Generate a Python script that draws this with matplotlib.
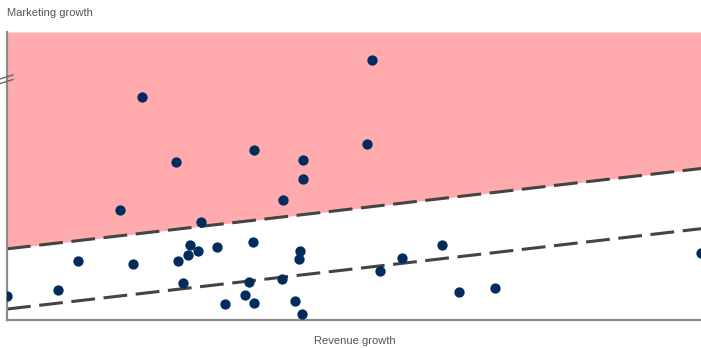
import matplotlib
matplotlib.use("Agg")
import matplotlib.pyplot as plt
import numpy as np

plt.rcParams['font.family'] = ['Liberation Sans', 'DejaVu Sans']

# Data (arbitrary units)
revenue_growth = [0.0, 7.3, 10.2, 16.3, 18.2, 19.5, 24.4, 24.6, 25.4, 26.1, 26.4, 27.5,
                  28.0, 30.3, 31.4, 34.3, 34.9, 35.4, 35.6, 35.6, 39.6, 39.8, 41.5, 42.1,
                  42.2, 42.5, 42.7, 42.7, 51.9, 52.6, 53.7, 56.9, 62.7, 65.1, 70.3, 100.0]
marketing_growth = [8.4, 10.5, 20.6, 38.3, 19.5, 77.4, 54.7, 20.6, 12.9, 22.6, 26.1, 24.0,
                    34.1, 25.4, 5.6, 8.7, 13.2, 27.2, 59.2, 5.9, 14.3, 41.8, 6.6, 21.3,
                    24.0, 2.1, 48.8, 55.4, 61.0, 90.2, 17.1, 21.6, 26.1, 9.8, 11.1, 23.3]

upper_line_x = [0, 100]
upper_line_y = [24.7, 52.6]
lower_line_x = [0, 100]
lower_line_y = [3.8, 31.7]

fig = plt.figure(figsize=(7.01, 3.48), dpi=100)
ax = fig.add_axes([7 / 701, 28 / 348, 694 / 701, 288 / 348])
ax.set_xlim(0, 100)
ax.set_ylim(0, 100)

# pink region above upper line
ax.fill_between(upper_line_x, upper_line_y, [100, 100], color='#ffabad', linewidth=0, zorder=1)

ax.plot(upper_line_x, upper_line_y, color='#444444', lw=2.2, dashes=(7.8, 2.8), zorder=2,
        dash_capstyle='butt')
ax.plot(lower_line_x, lower_line_y, color='#444444', lw=2.2, dashes=(7.8, 2.8), zorder=2,
        dash_capstyle='butt')

ax.scatter(revenue_growth, marketing_growth, s=55, color='#022b5e', zorder=3, linewidths=0)

for side in ['top', 'right']:
    ax.spines[side].set_visible(False)
for side in ['left', 'bottom']:
    ax.spines[side].set_color('#8c8c8c')
    ax.spines[side].set_linewidth(1.6)
ax.set_xticks([])
ax.set_yticks([])

# axis break mark on the y axis
for y0 in [0.837, 0.821]:
    ax.plot([-0.010, 0.0086], [y0, y0 + 0.014], transform=ax.transAxes,
            color='#666666', lw=1.0, clip_on=False, zorder=4)

fig.text(7 / 701, 1 - 13 / 348, 'Marketing growth', fontsize=8, color='#555555',
         ha='left', va='center')
fig.text(355 / 701, 1 - 341 / 348, 'Revenue growth', fontsize=8, color='#555555',
         ha='center', va='center')

fig.savefig('out.png', dpi=100)
